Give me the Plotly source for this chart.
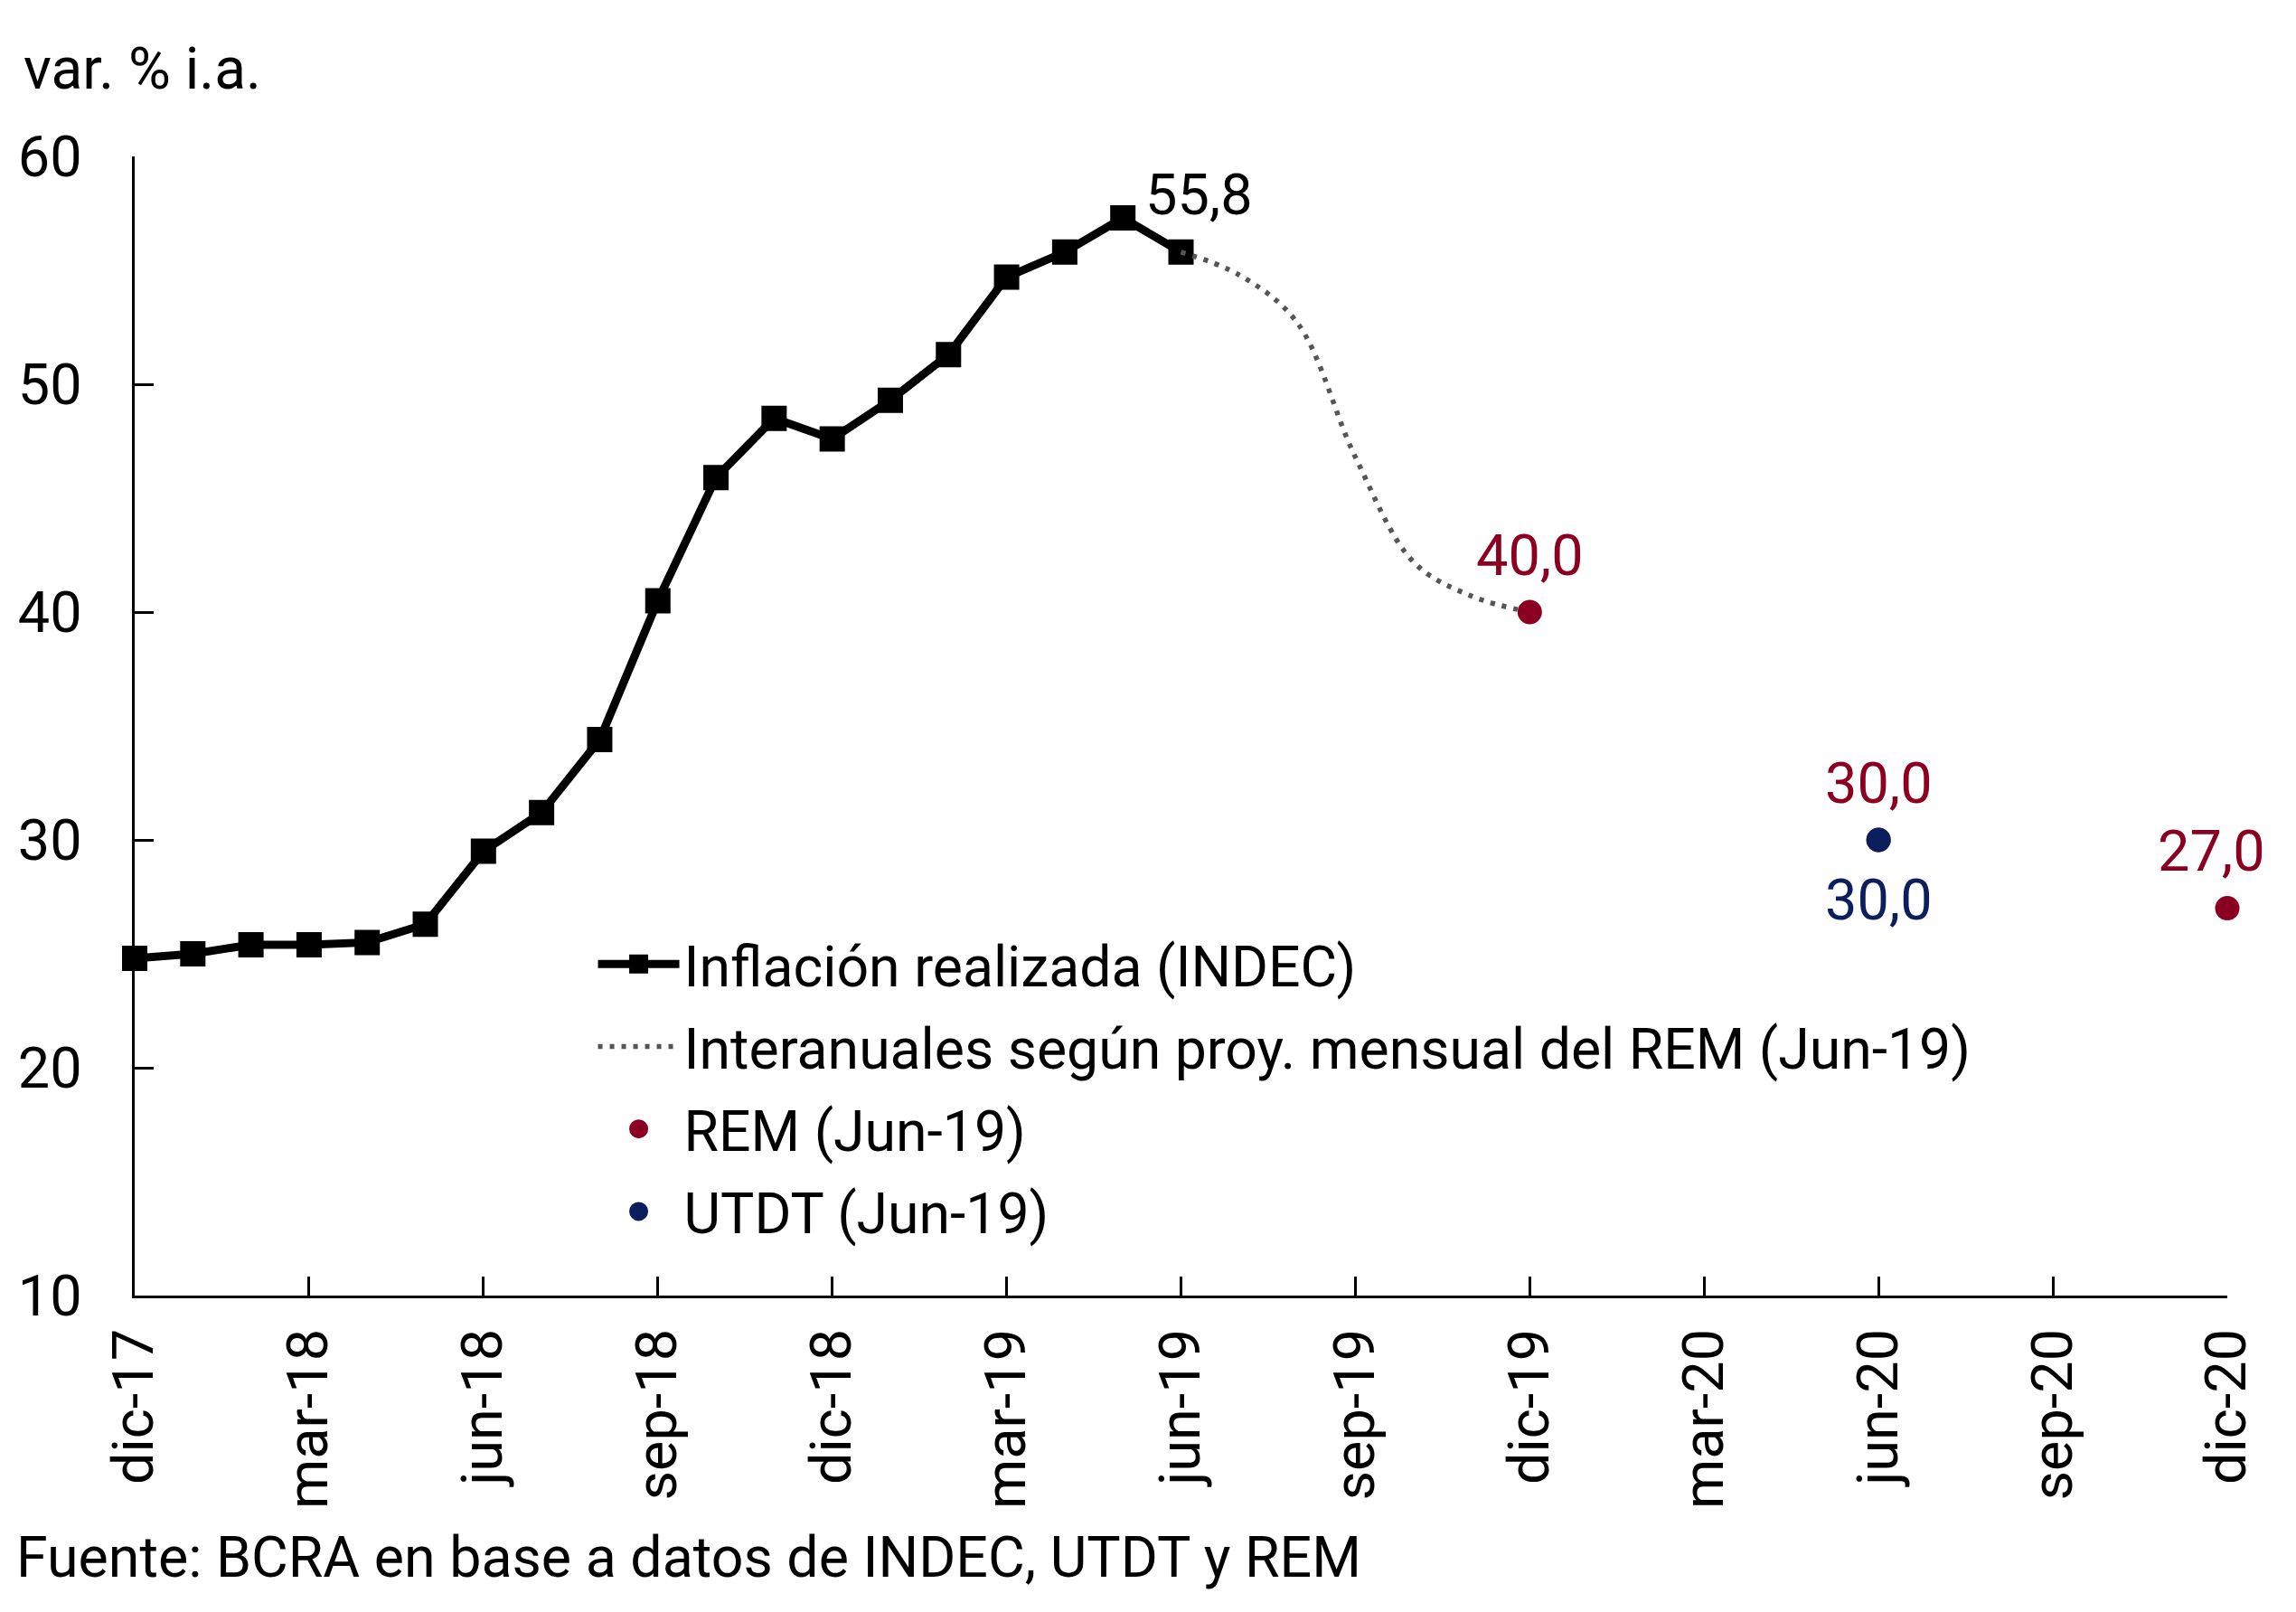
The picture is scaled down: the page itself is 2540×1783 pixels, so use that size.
import plotly.graph_objects as go

# ---------------- data ----------------
month_categories = [
    "dic-17", "ene-18", "feb-18", "mar-18", "abr-18", "may-18", "jun-18", "jul-18", "ago-18",
    "sep-18", "oct-18", "nov-18", "dic-18", "ene-19", "feb-19", "mar-19", "abr-19", "may-19",
    "jun-19", "jul-19", "ago-19", "sep-19", "oct-19", "nov-19", "dic-19", "ene-20", "feb-20",
    "mar-20", "abr-20", "may-20", "jun-20", "jul-20", "ago-20", "sep-20", "oct-20", "nov-20",
    "dic-20",
]

real_months = [
    "dic-17", "ene-18", "feb-18", "mar-18", "abr-18", "may-18", "jun-18", "jul-18", "ago-18",
    "sep-18", "oct-18", "nov-18", "dic-18", "ene-19", "feb-19", "mar-19", "abr-19", "may-19",
    "jun-19",
]
real_values = [24.8, 25.0, 25.4, 25.4, 25.5, 26.3, 29.5, 31.2, 34.4,
               40.5, 45.9, 48.5, 47.6, 49.3, 51.3, 54.7, 55.8, 57.3, 55.8]

proj_months = ["jun-19", "jul-19", "ago-19", "sep-19", "oct-19", "nov-19", "dic-19"]
proj_values = [55.8, 54.8, 52.7, 46.8, 42.2, 40.7, 40.0]

rem_months = ["dic-19", "jun-20", "dic-20"]
rem_values = [40.0, 30.0, 27.0]

utdt_months = ["jun-20"]
utdt_values = [30.0]

tick_labels = ["dic-17", "mar-18", "jun-18", "sep-18", "dic-18", "mar-19", "jun-19",
               "sep-19", "dic-19", "mar-20", "jun-20", "sep-20", "dic-20"]
y_ticks = [10, 20, 30, 40, 50, 60]

# ---------------- styling ----------------
OFF = 8                      # default page body margin
PX0, PX1, PY0, PY1 = 147, 2464, 173, 1433   # plot area in screen pixels
W, H = 2540 - 2 * OFF, 1783 - 2 * OFF
ML, MT = PX0 - OFF, PY0 - OFF
PW, PH = PX1 - PX0, PY1 - PY0
MR, MB = W - ML - PW, H - MT - PH
FONT = "Roboto"
RED = "#8B0020"
BLUE = "#0B1F5C"
GREY = "#555555"


def px_x(sx):
    return (sx - PX0) / PW


def px_y(sy):
    return (PY1 - sy) / PH


def fmt(v):
    return f"{v:.1f}".replace(".", ",")


fig = go.Figure()

fig.add_trace(go.Scatter(
    x=real_months, y=real_values, mode="lines+markers",
    name="Inflación realizada (INDEC)", legendgroup="a",
    line=dict(color="black", width=9),
    marker=dict(symbol="square", size=23, color="black", line=dict(color="black", width=5)),
    cliponaxis=False,
))
fig.add_trace(go.Scatter(
    x=proj_months, y=proj_values, mode="lines",
    name="Interanuales según proy. mensual del REM (Jun-19)", legendgroup="b",
    line=dict(color=GREY, width=5.5, dash="5px,8px", shape="spline", smoothing=1.0),
    cliponaxis=False,
))
fig.add_trace(go.Scatter(
    x=rem_months, y=rem_values, mode="markers",
    name="REM (Jun-19)", legendgroup="c",
    marker=dict(symbol="circle", size=22, color=RED, line=dict(color=RED, width=5)),
    cliponaxis=False,
))
fig.add_trace(go.Scatter(
    x=utdt_months, y=utdt_values, mode="markers",
    name="UTDT (Jun-19)", legendgroup="d",
    marker=dict(symbol="circle", size=22, color=BLUE, line=dict(color=BLUE, width=5)),
    cliponaxis=False,
))

annotations = []
# last realized value label
annotations.append(dict(
    x=real_months[-1], y=real_values[-1], xref="x", yref="y",
    text=fmt(real_values[-1]), showarrow=False, xshift=20, yshift=63,
    font=dict(family=FONT, size=63, color="black"),
))
# REM labels (above points)
for i, (m, v) in enumerate(zip(rem_months, rem_values)):
    annotations.append(dict(
        x=m, y=v, xref="x", yref="y", text=fmt(v), showarrow=False,
        xshift=(-18 if i == len(rem_months) - 1 else 0), yshift=63,
        font=dict(family=FONT, size=63, color=RED),
    ))
# UTDT labels (below points)
for m, v in zip(utdt_months, utdt_values):
    annotations.append(dict(
        x=m, y=v, xref="x", yref="y", text=fmt(v), showarrow=False,
        yshift=-66, font=dict(family=FONT, size=63, color=BLUE),
    ))
# unit label
annotations.append(dict(
    x=px_x(22), y=px_y(76), xref="paper", yref="paper", xanchor="left", yanchor="middle",
    text="var. % i.a.", showarrow=False, font=dict(family=FONT, size=64, color="black"),
))
# source
annotations.append(dict(
    x=px_x(14), y=px_y(1722), xref="paper", yref="paper", xanchor="left", yanchor="middle",
    text="Fuente: BCRA en base a datos de INDEC, UTDT y REM", showarrow=False,
    font=dict(family=FONT, size=62.7, color="black"),
))

fig.update_layout(
    width=W, height=H,
    margin=dict(l=ML, r=MR, t=MT, b=MB, pad=0),
    paper_bgcolor="white", plot_bgcolor="white",
    font=dict(family=FONT, color="black"),
    showlegend=True,
    legend=dict(
        x=px_x(655), y=px_y(1019), xanchor="left", yanchor="top",
        font=dict(family=FONT, size=62.5, color="black"),
        bgcolor="rgba(0,0,0,0)", borderwidth=0,
        itemwidth=90, tracegroupgap=7, traceorder="grouped",
    ),
    annotations=annotations,
    xaxis=dict(
        type="category", categoryorder="array", categoryarray=month_categories,
        range=[0, len(month_categories) - 1],
        tickmode="array", tickvals=tick_labels, ticktext=tick_labels,
        tickangle=-90, ticks="inside", ticklen=21, tickwidth=2.5, tickcolor="black",
        showline=True, linecolor="black", linewidth=2.5,
        showgrid=False, zeroline=False,
        tickfont=dict(family=FONT, size=63, color="black"),
        ticklabelstandoff=9,
    ),
    yaxis=dict(
        range=[10, 60], tickmode="array", tickvals=y_ticks,
        ticks="inside", ticklen=21, tickwidth=2.5, tickcolor="black",
        showline=True, linecolor="black", linewidth=2.5,
        showgrid=False, zeroline=False,
        tickfont=dict(family=FONT, size=63, color="black"),
        ticklabelstandoff=43,
    ),
)

fig.write_html("out.html")
